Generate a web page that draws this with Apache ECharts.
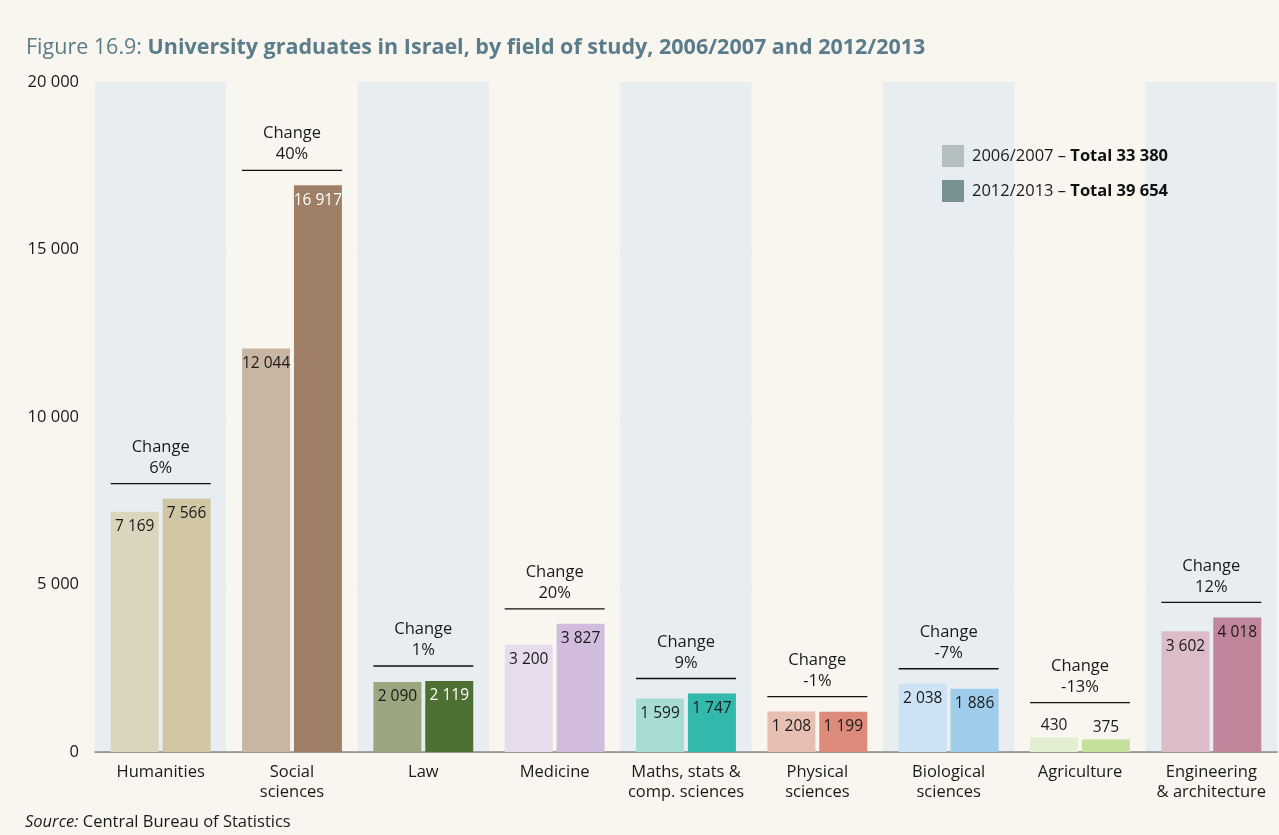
<!DOCTYPE html>
<html>
<head>
<meta charset="utf-8">
<title>University graduates in Israel</title>
<script src="https://cdn.jsdelivr.net/npm/echarts@6/dist/echarts.min.js"></script>
<style>
  html, body { margin: 0; padding: 0; background: #f9f6f0; }
  #chart { width: 1279px; height: 835px; }
</style>
</head>
<body>
<div id="chart"></div>
<script>
const fields = ['Humanities', 'Social\nsciences', 'Law', 'Medicine', 'Maths, stats &\ncomp. sciences',
  'Physical\nsciences', 'Biological\nsciences', 'Agriculture', 'Engineering\n& architecture'];
const grads2006 = [7169, 12044, 2090, 3200, 1599, 1208, 2038, 430, 3602];
const grads2012 = [7566, 16917, 2119, 3827, 1747, 1199, 1886, 375, 4018];
const changes = ['6%', '40%', '1%', '20%', '9%', '-1%', '-7%', '-13%', '12%'];
const yTicks = [0, 5000, 10000, 15000, 20000];

// bar colours per field: [2006/2007, 2012/2013]
const lightColors = ['#dbd5bd', '#c8b5a2', '#9aa67f', '#e6dced', '#a6dcd3', '#e8c0b3', '#cde2f5', '#e2efd0', '#dcbcc8'];
const darkColors = ['#d0c6a3', '#9f8066', '#4e7033', '#d2bcde', '#33b9ac', '#dc8b7b', '#a0ccec', '#c5df9d', '#c2869c'];
const whiteLabels = ['16917', '2119'];
const smallBar = 800; // below this the value sits above the bar

const fmt = v => String(v).replace(/\B(?=(\d{3})+(?!\d))/g, ' ');

function barData(values, colors) {
  return values.map((v, i) => ({
    value: v,
    itemStyle: { color: colors[i] },
    label: {
      position: v < smallBar ? 'top' : 'insideTop',
      distance: v < smallBar ? 4 : 7,
      color: whiteLabels.includes(String(v)) ? '#ffffff' : '#1a1a1a'
    }
  }));
}

const chart = echarts.init(document.getElementById('chart'));
const font = '"Open Sans", sans-serif';
const fs = 16.5;

chart.setOption({
  backgroundColor: '#f9f6f0',
  animation: false,
  textStyle: { fontFamily: font },
  title: {
    left: 21, top: 32,
    text: '{n|Figure 16.9: }{b|University graduates in Israel, by field of study, 2006/2007 and 2012/2013}',
    textStyle: {
      fontWeight: 'normal',
      rich: {
        n: { fontFamily: font, fontSize: 21.5, fontWeight: 'normal', color: '#5b7c8a' },
        b: { fontFamily: font, fontSize: 21.5, fontWeight: 'bold', color: '#5b7c8a' }
      }
    }
  },
  graphic: [{
    type: 'text', left: 25, top: 814,
    style: {
      text: '{i|Source:} Central Bureau of Statistics',
      rich: {
        i: { fontFamily: font, fontSize: fs, fontStyle: 'italic', fill: '#1a1a1a' }
      },
      font: fs + 'px ' + font, fill: '#1a1a1a'
    }
  }],
  legend: {
    orient: 'vertical', left: 937, top: 140,
    icon: 'rect',
    itemWidth: 22, itemHeight: 22, itemGap: 13,
    data: ['2006/2007', '2012/2013'],
    formatter: name => name === '2006/2007'
      ? '{s|}{a|2006/2007 – }{b|Total 33 380}'
      : '{s|}{a|2012/2013 – }{b|Total 39 654}',
    textStyle: {
      rich: {
        s: { width: 3 },
        a: { fontFamily: font, fontSize: fs, color: '#1a1a1a' },
        b: { fontFamily: font, fontSize: fs, fontWeight: 'bold', color: '#111' }
      }
    }
  },
  grid: { left: 95, right: 2, top: 82, bottom: 83 },
  xAxis: {
    type: 'category',
    data: fields,
    axisTick: { show: false },
    axisLine: { lineStyle: { color: '#8a8a8a', width: 1.5 } },
    axisLabel: { color: '#1a1a1a', fontSize: fs, lineHeight: 20, margin: 10, interval: 0 },
    splitArea: { show: true, areaStyle: { color: ['#e7edf0', '#f9f6f0'] } }
  },
  yAxis: {
    type: 'value',
    min: yTicks[0], max: yTicks[yTicks.length - 1], interval: 5000,
    axisLine: { show: false },
    axisTick: { show: false },
    axisLabel: { color: '#1a1a1a', fontSize: fs, margin: 16, formatter: v => fmt(v) },
    splitLine: { lineStyle: { color: '#b9bebe', width: 1 } }
  },
  series: [
    {
      name: '2006/2007', type: 'bar', barWidth: 48, barGap: '8%',
      itemStyle: { color: '#b4bfc0' },
      label: { show: true, fontSize: 15.5, formatter: p => fmt(p.value) },
      data: barData(grads2006, lightColors)
    },
    {
      name: '2012/2013', type: 'bar', barWidth: 48,
      itemStyle: { color: '#7a9194' },
      label: { show: true, fontSize: 15.5, formatter: p => fmt(p.value) },
      data: barData(grads2012, darkColors)
    },
    {
      name: 'change', type: 'custom',
      data: fields.map((f, i) => [i, Math.max(grads2006[i], grads2012[i]), changes[i]]),
      encode: { x: 0, y: 1 },
      z: 5,
      renderItem: (params, api) => {
        const v = api.value(1);
        const p = api.coord([api.value(0), v]);
        const lineY = p[1] - (v < smallBar ? 35 : 15);
        return {
          type: 'group',
          children: [
            { type: 'line', shape: { x1: p[0] - 50, y1: lineY, x2: p[0] + 50, y2: lineY },
              style: { stroke: '#111', lineWidth: 1.3 } },
            { type: 'text', x: p[0], y: lineY - 5,
              style: { text: 'Change\n' + changes[params.dataIndex], align: 'center', verticalAlign: 'bottom',
                font: fs + 'px ' + font, lineHeight: 21, fill: '#1a1a1a' } }
          ]
        };
      }
    }
  ]
});
</script>
</body>
</html>
